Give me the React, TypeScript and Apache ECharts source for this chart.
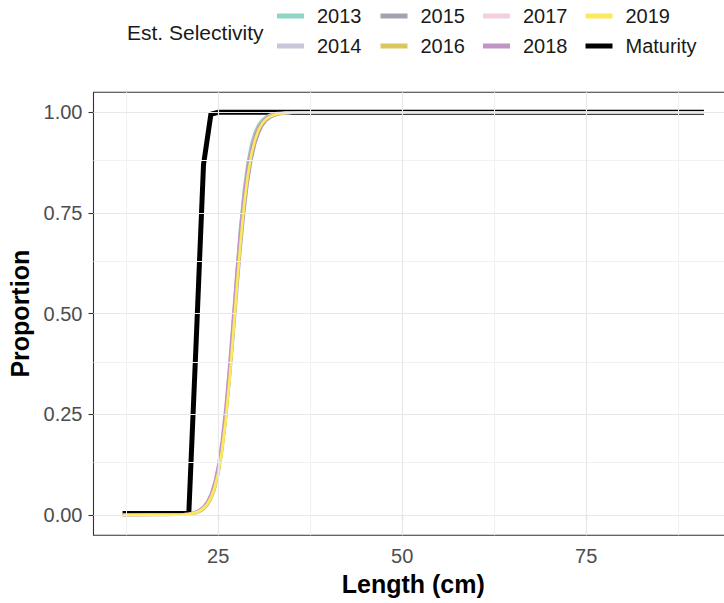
import React, { useEffect, useRef } from "react";
import * as echarts from "echarts";

// Lengths (cm) at which selectivity curves are given
const selLengths = [12, 20, 21, 21.5, 22, 22.5, 23, 23.5, 24, 24.5, 25, 25.5, 26, 26.5, 27, 27.5, 28, 28.5, 29, 29.5, 30, 30.5, 31, 31.5, 32, 32.5, 33, 34, 35, 36, 91];

const sel2013 = [0, 0.0007, 0.0019, 0.0031, 0.0052, 0.0087, 0.0144, 0.024, 0.039, 0.064, 0.103, 0.161, 0.243, 0.35, 0.474, 0.602, 0.717, 0.809, 0.876, 0.922, 0.952, 0.971, 0.982, 0.989, 0.994, 0.996, 0.998, 0.999, 1, 1, 1];
const sel2014 = [0, 0.001, 0.0027, 0.0044, 0.007, 0.0112, 0.018, 0.0287, 0.045, 0.071, 0.11, 0.165, 0.242, 0.339, 0.453, 0.571, 0.682, 0.775, 0.847, 0.899, 0.935, 0.959, 0.974, 0.983, 0.99, 0.994, 0.996, 0.998, 0.999, 1, 1];
const sel2015 = [0, 0.0013, 0.0032, 0.0051, 0.008, 0.0126, 0.0197, 0.0307, 0.047, 0.073, 0.11, 0.163, 0.235, 0.326, 0.432, 0.545, 0.654, 0.748, 0.824, 0.881, 0.921, 0.948, 0.967, 0.979, 0.986, 0.991, 0.994, 0.998, 0.999, 1, 1];
const sel2016 = [0, 0.0007, 0.002, 0.0033, 0.0055, 0.009, 0.0148, 0.024, 0.039, 0.063, 0.1, 0.154, 0.231, 0.332, 0.45, 0.574, 0.69, 0.786, 0.858, 0.909, 0.943, 0.964, 0.978, 0.987, 0.992, 0.995, 0.997, 0.999, 1, 1, 1];
const sel2017 = [0, 0.0012, 0.003, 0.0048, 0.0077, 0.0124, 0.0198, 0.0315, 0.05, 0.078, 0.119, 0.179, 0.26, 0.361, 0.476, 0.594, 0.702, 0.791, 0.859, 0.908, 0.941, 0.962, 0.976, 0.985, 0.991, 0.994, 0.996, 0.998, 0.999, 1, 1];
const sel2018 = [0, 0.0012, 0.0031, 0.005, 0.008, 0.013, 0.0206, 0.033, 0.052, 0.081, 0.124, 0.186, 0.269, 0.372, 0.488, 0.606, 0.712, 0.799, 0.865, 0.911, 0.943, 0.964, 0.977, 0.986, 0.991, 0.994, 0.997, 0.998, 0.999, 1, 1];
const sel2019 = [0, 0.001, 0.0026, 0.0042, 0.0067, 0.0107, 0.0172, 0.0273, 0.0433, 0.068, 0.105, 0.159, 0.233, 0.329, 0.441, 0.559, 0.671, 0.767, 0.841, 0.895, 0.932, 0.957, 0.973, 0.983, 0.989, 0.993, 0.996, 0.998, 0.999, 1, 1];

// Maturity ogive
const matLengths = [12, 21, 22, 23, 24, 25, 91];
const maturity = [0.004, 0.004, 0.43, 0.87, 0.995, 1, 1];

const years = ["2013", "2014", "2015", "2016", "2017", "2018", "2019"];
const yearColors = ["#8fd5c6", "#c8c6d8", "#a7a0b0", "#dac75e", "#f2cfe1", "#c195c5", "#fde95c"];
const selSeries = [sel2013, sel2014, sel2015, sel2016, sel2017, sel2018, sel2019];

const xTicks = [25, 50, 75];
const xMinorGrid = [12.5, 37.5, 62.5, 87.5];
const yTicks = [0, 0.25, 0.5, 0.75, 1];
const yMinorGrid = [0.125, 0.375, 0.625, 0.875];

const legendOrder = ["2013", "2014", "2015", "2016", "2017", "2018", "2019", "Maturity"];

const FONT = "'Liberation Sans', Arial, sans-serif";

export default function App() {
  const ref = useRef<HTMLDivElement>(null);

  useEffect(() => {
    if (!ref.current) return;
    const chart = echarts.init(ref.current, undefined, { renderer: "svg" });

    const colorOf = (n: string) =>
      n === "Maturity" ? "#000000" : yearColors[years.indexOf(n)];

    const legendCols = [277, 380.5, 483, 585.5];
    const legendRows = [4, 34];
    const legends = legendOrder.map((name, i) => ({
      data: [{ name, icon: "rect", itemStyle: { color: colorOf(name) } }],
      left: legendCols[Math.floor(i / 2)],
      top: legendRows[i % 2],
      padding: 0,
      itemWidth: 27,
      itemHeight: 5,
      selectedMode: false,
      textStyle: {
        fontSize: 20,
        lineHeight: 24,
        color: "#1a1a1a",
        fontFamily: FONT,
        padding: [0, 0, 0, 8],
      },
    }));

    const gridLineData: any[] = [];
    xMinorGrid.forEach((v) => gridLineData.push({ xAxis: v, lineStyle: { color: "#f1f1f1", width: 1 } }));
    yMinorGrid.forEach((v) => gridLineData.push({ yAxis: v, lineStyle: { color: "#f1f1f1", width: 1 } }));
    xTicks.forEach((v) => gridLineData.push({ xAxis: v, lineStyle: { color: "#e8e8e8", width: 1.2 } }));
    yTicks.forEach((v) => gridLineData.push({ yAxis: v, lineStyle: { color: "#e8e8e8", width: 1.2 } }));

    const series: any[] = [
      {
        name: "__grid",
        type: "line",
        data: [],
        silent: true,
        z: 0,
        markLine: {
          silent: true,
          symbol: "none",
          label: { show: false },
          animation: false,
          lineStyle: { type: "solid" },
          data: gridLineData,
        },
      },
      {
        name: "Maturity",
        type: "line",
        color: "#000000",
        data: matLengths.map((x, i) => [x, maturity[i]]),
        showSymbol: false,
        symbol: "none",
        lineStyle: { width: 5, color: "#000000", cap: "butt", join: "miter" },
        z: 2,
      },
      ...years.map((y, k) => ({
        name: y,
        type: "line",
        color: yearColors[k],
        data: selLengths.map((x, i) => [x, selSeries[k][i]]),
        showSymbol: false,
        symbol: "none",
        lineStyle: { width: 2.6, color: yearColors[k] },
        z: 3,
      })),
    ];

    const option: any = {
      animation: false,
      backgroundColor: "#ffffff",
      textStyle: { fontFamily: FONT },
      legend: legends,
      graphic: [
        {
          type: "text",
          x: 127,
          y: 32,
          style: {
            text: "Est. Selectivity",
            font: `21px ${FONT}`,
            fill: "#1a1a1a",
            verticalAlign: "middle",
            align: "left",
          },
        },
      ],
      grid: {
        left: 93.5,
        top: 92.2,
        width: 639.5,
        height: 443,
        show: true,
        borderColor: "#333333",
        borderWidth: 1.1,
        backgroundColor: "transparent",
        containLabel: false,
        outerBoundsMode: "none",
      },
      xAxis: {
        type: "value",
        min: 8.05,
        max: 94.95,
        axisLine: { show: false },
        splitLine: { show: false },
        axisTick: { show: true, customValues: xTicks, length: 5, lineStyle: { color: "#333333", width: 1.1 } },
        axisLabel: { customValues: xTicks, margin: 11, color: "#4d4d4d", fontSize: 20, fontFamily: FONT },
        name: "Length (cm)",
        nameLocation: "middle",
        nameGap: 35,
        nameTextStyle: { fontSize: 25, fontWeight: "bold", color: "#000000", fontFamily: FONT },
      },
      yAxis: {
        type: "value",
        min: -0.05,
        max: 1.05,
        axisLine: { show: false },
        splitLine: { show: false },
        axisTick: { show: true, customValues: yTicks, length: 5, lineStyle: { color: "#333333", width: 1.1 } },
        axisLabel: {
          customValues: yTicks,
          margin: 11,
          color: "#4d4d4d",
          fontSize: 20,
          fontFamily: FONT,
          formatter: (v: number) => v.toFixed(2),
        },
        name: "Proportion",
        nameLocation: "middle",
        nameGap: 58,
        nameTextStyle: { fontSize: 25, fontWeight: "bold", color: "#000000", fontFamily: FONT },
      },
      series,
    };

    chart.setOption(option);
    return () => chart.dispose();
  }, []);

  return (
    <div
      ref={ref}
      style={{ position: "fixed", left: 0, top: 0, width: 724, height: 603, background: "#fff" }}
    />
  );
}
